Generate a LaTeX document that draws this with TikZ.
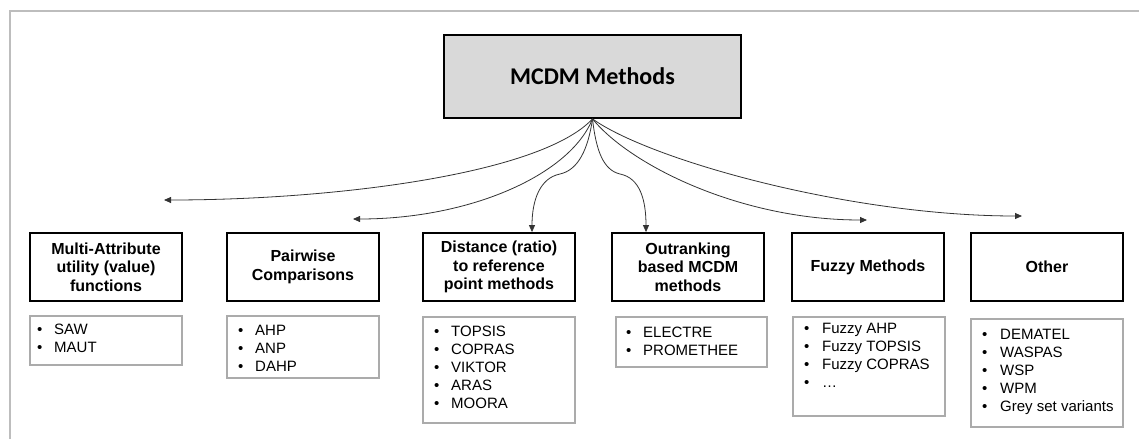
\documentclass[tikz,border=0pt]{standalone}
\usepackage{fontspec}
\setmainfont{Liberation Sans}
\newfontfamily\titlefont{Carlito}
\usetikzlibrary{arrows.meta}
\definecolor{boxgray}{HTML}{D9D9D9}
\definecolor{framegray}{HTML}{BDBDBD}
\definecolor{listgray}{HTML}{ABABAB}
\begin{document}
\begin{tikzpicture}[x=1pt,y=1pt,
 mainbox/.style={draw=black, line width=1.8pt, fill=boxgray, minimum width=297pt, minimum height=83pt, inner sep=0pt, font=\titlefont\bfseries\fontsize{24}{28}\selectfont},
 catbox/.style={draw=black, line width=1.8pt, minimum width=152pt, minimum height=68pt, inner sep=0pt, align=center, font=\bfseries\fontsize{16}{18.5}\selectfont},
 listbox/.style={draw=listgray, line width=1.5pt, minimum width=152pt, inner sep=0pt},
 listtext/.style={anchor=base west, inner sep=0pt, font=\fontsize{15}{18}\selectfont},
 conn/.style={draw=black!80, line width=0.8pt, -{Triangle[length=7pt,width=6pt]}},
 frameline/.style={draw=framegray, line width=2pt}]
\useasboundingbox (0,0) rectangle (1139,-439);
\draw[frameline] (9.5,-439) -- (9.5,-11) -- (1139,-11);

\node[mainbox] (main) at (592.5,-76.5) {MCDM Methods};

\node[catbox] (b1) at (106,-267) {Multi-Attribute\\utility (value)\\functions};
\node[catbox] (b2) at (303,-267) {Pairwise\\Comparisons};
\node[catbox] (b3) at (499,-267) {Distance (ratio)\\to reference\\point methods};
\node[catbox] (b4) at (688,-267) {Outranking\\based MCDM\\methods};
\node[catbox] (b5) at (868,-267) {Fuzzy Methods};
\node[catbox] (b6) at (1047,-267) {Other};

\node[listbox, minimum height=49pt] (l1) at (106,-340.5) {};
\node[listbox, minimum height=62pt] (l2) at (303,-347) {};
\node[listbox, minimum height=106pt] (l3) at (499,-370) {};
\node[listbox, minimum width=151pt, minimum height=50pt] (l4) at (691.5,-342) {};
\node[listbox, minimum height=99pt] (l5) at (869,-366.5) {};
\node[listbox, minimum height=108pt] (l6) at (1047,-373) {};

\node[listtext] (t1) at (37,-334) {\begin{tabular}[t]{@{}p{17pt}@{}l@{}}• & SAW\\ • & MAUT\end{tabular}};
\node[listtext] (t2) at (238,-335) {\begin{tabular}[t]{@{}p{17pt}@{}l@{}}• & AHP\\ • & ANP\\ • & DAHP\end{tabular}};
\node[listtext] (t3) at (434,-336) {\begin{tabular}[t]{@{}p{17pt}@{}l@{}}• & TOPSIS\\ • & COPRAS\\ • & VIKTOR\\ • & ARAS\\ • & MOORA\end{tabular}};
\node[listtext] (t4) at (626,-337) {\begin{tabular}[t]{@{}p{17pt}@{}l@{}}• & ELECTRE\\ • & PROMETHEE\end{tabular}};
\node[listtext] (t5) at (804,-333) {\begin{tabular}[t]{@{}p{18pt}@{}l@{}}• & Fuzzy AHP\\ • & Fuzzy TOPSIS\\ • & Fuzzy COPRAS\\ • & …\end{tabular}};
\node[listtext] (t6) at (982,-339) {\begin{tabular}[t]{@{}p{18pt}@{}l@{}}• & DEMATEL\\ • & WASPAS\\ • & WSP\\ • & WPM\\ • & Grey set variants\end{tabular}};

\coordinate (e1) at (164,-200);
\coordinate (e2) at (353,-219);
\coordinate (e5) at (867,-220);
\coordinate (e6) at (1022,-216);

\draw[conn] (main.south) .. controls (540,-175) and (330,-200) .. (e1);
\draw[conn] (main.south) .. controls (570,-175) and (470,-219) .. (e2);
\draw[conn] (main.south) .. controls (588,-150) and (578,-170) .. (560,-174) .. controls (540,-178) and (532,-200) .. ([xshift=33pt]b3.north);
\draw[conn] (main.south) .. controls (596,-150) and (603,-170) .. (620,-174) .. controls (640,-178) and (646,-200) .. ([xshift=-42pt]b4.north);
\draw[conn] (main.south) .. controls (630,-165) and (740,-220) .. (e5);
\draw[conn] (main.south) .. controls (650,-160) and (850,-216) .. (e6);
\end{tikzpicture}
\end{document}
